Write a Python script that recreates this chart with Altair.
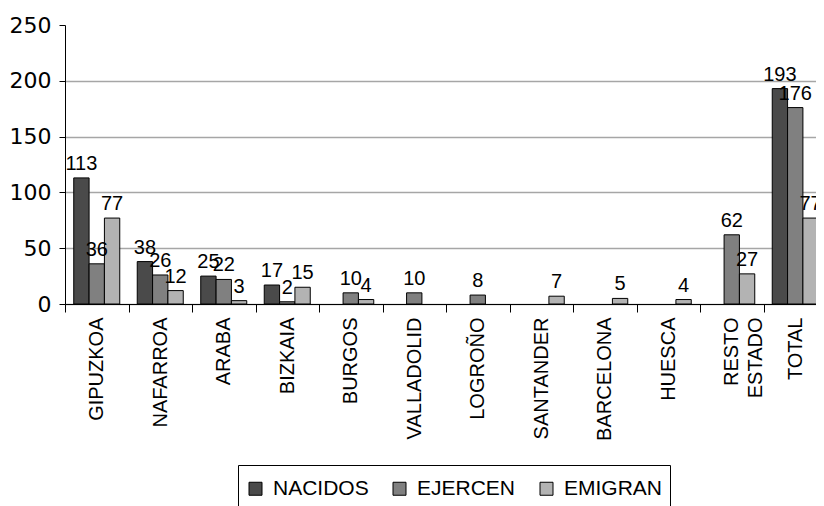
import altair as alt
import pandas as pd

categories = ["GIPUZKOA", "NAFARROA", "ARABA", "BIZKAIA", "BURGOS", "VALLADOLID",
              "LOGROÑO", "SANTANDER", "BARCELONA", "HUESCA", "RESTO ESTADO", "TOTAL"]
series = ["NACIDOS", "EJERCEN", "EMIGRAN"]
nacidos = [113, 38, 25, 17, None, None, None, None, None, None, None, 193]
ejercen = [36, 26, 22, 2, 10, 10, 8, None, None, None, 62, 176]
emigran = [77, 12, 3, 15, 4, None, None, 7, 5, 4, 27, 77]
colors = ["#4a4a4a", "#808080", "#b3b3b3"]
y_ticks = [0, 50, 100, 150, 200, 250]

rows = []
for s, vals in zip(series, [nacidos, ejercen, emigran]):
    for c, v in zip(categories, vals):
        if v is not None:
            rows.append({"lugar": c, "serie": s, "valor": v})
df = pd.DataFrame(rows)

x_enc = alt.X(
    "lugar:N", sort=categories,
    scale=alt.Scale(domain=categories, range=[0, 762], paddingInner=0, paddingOuter=0),
    axis=alt.Axis(title=None, labelAngle=-90, labelFont="Liberation Sans", labelFontSize=20,
                  labelColor="black", labelPadding=5, labelExpr="split(datum.label, ' ')",
                  labelLineHeight=24, tickSize=8, tickColor="black", tickBand="extent",
                  domainColor="black", domainWidth=1, labelLimit=300, grid=False),
)
y_enc = alt.Y(
    "valor:Q",
    scale=alt.Scale(domain=[0, 250], nice=False),
    axis=alt.Axis(title=None, values=y_ticks, grid=True, gridColor="#a6a6a6", gridWidth=1.5,
                  gridOpacity={"condition": {"test": "datum.value === 250", "value": 0}, "value": 1},
                  tickSize=6, tickColor="black", domainColor="black", labelPadding=8,
                  labelFont="DejaVu Sans", labelFontSize=22, labelColor="black"),
)
xoff = alt.XOffset("serie:N", sort=series,
                   scale=alt.Scale(domain=series, paddingInner=0, paddingOuter=0.57))

bars = alt.Chart(df).mark_bar(stroke="black", strokeWidth=1).encode(
    x=x_enc, y=y_enc, xOffset=xoff,
    color=alt.Color("serie:N", sort=series,
                    scale=alt.Scale(domain=series, range=colors),
                    legend=alt.Legend(orient="none", legendX=173, legendY=440,
                                      direction="horizontal", title=" ",
                                      titleFontSize=1, titlePadding=5,
                                      symbolType="square", symbolSize=169,
                                      symbolStrokeColor="black", symbolStrokeWidth=1,
                                      symbolOpacity=1,
                                      labelFont="Liberation Sans", labelFontSize=21,
                                      labelColor="black", labelOffset=7,
                                      columnPadding=20, strokeColor="black", padding=7,
                                      offset=0)),
)

labels = alt.Chart(df).mark_text(font="Liberation Sans", fontSize=20, baseline="alphabetic",
                                 dy=-8, color="black").encode(
    x=x_enc, y=y_enc, xOffset=xoff, text="valor:Q",
)

chart = alt.layer(bars, labels).properties(
    width=751, height=279,
    autosize=alt.AutoSizeParams(type="none"),
    padding={"left": 57, "top": 17, "right": 0, "bottom": 202},
    background="white",
).configure_view(stroke=None)

chart.save("out.html", embed_options={"renderer": "svg", "actions": False})
